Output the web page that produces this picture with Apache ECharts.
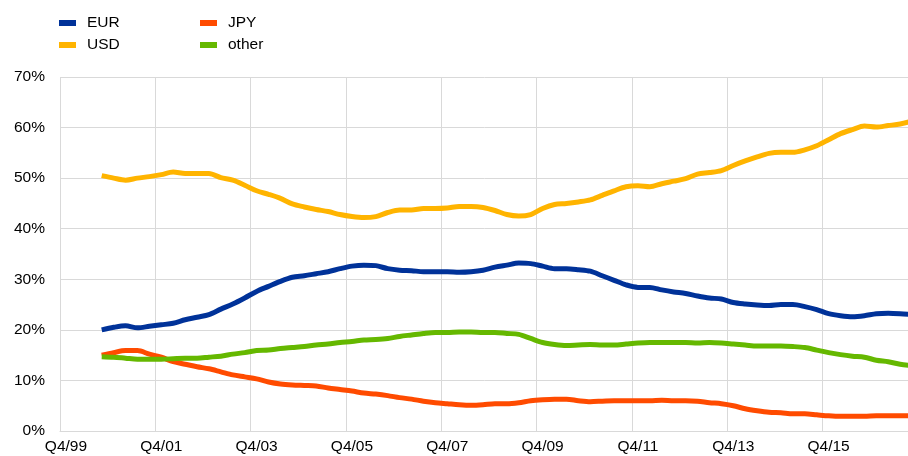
<!DOCTYPE html>
<html>
<head>
<meta charset="utf-8">
<script src="https://cdn.jsdelivr.net/npm/echarts@6/dist/echarts.min.js"></script>
<style>
  html, body { margin: 0; padding: 0; background: #fff; }
  #chart { width: 908px; height: 456px; }
</style>
</head>
<body>
<div id="chart"></div>
<script>
// quarters Q4/99 .. Q3/17, values in % (first three quarters have no data)
const quarters = [];
for (let y = 1999; y <= 2017; y++) {
  for (let q = 1; q <= 4; q++) {
    if (y === 1999 && q < 4) continue;
    if (y === 2017 && q > 3) continue;
    quarters.push('Q' + q + '/' + String(y).slice(2));
  }
}

const eur = [null, null, null,
  20.0, 20.5, 20.8, 20.4, 20.7, 21.0, 21.3, 22.0, 22.5, 23.0, 24.1, 25.1, 26.3, 27.6, 28.6, 29.6,
  30.4, 30.7, 31.1, 31.5, 32.1, 32.6, 32.8, 32.7, 32.1, 31.8, 31.7, 31.5, 31.5, 31.5, 31.4, 31.5, 31.8,
  32.4, 32.8, 33.2, 33.1, 32.6, 32.1, 32.1, 31.9, 31.6, 30.7, 29.8, 28.9, 28.4, 28.4, 27.9, 27.5, 27.2,
  26.7, 26.3, 26.1, 25.4, 25.1, 24.9, 24.8, 25.0, 25.0, 24.6, 24.0, 23.2, 22.8, 22.6, 22.8, 23.2, 23.3, 23.2, 23.0];

const usd = [null, null, null,
  50.5, 50.0, 49.6, 50.0, 50.3, 50.7, 51.2, 50.9, 50.9, 50.9, 50.1, 49.6, 48.6, 47.5, 46.8, 46.0,
  44.9, 44.3, 43.8, 43.4, 42.8, 42.4, 42.2, 42.4, 43.2, 43.7, 43.7, 44.0, 44.0, 44.1, 44.4, 44.4, 44.2,
  43.6, 42.8, 42.5, 42.8, 44.0, 44.8, 45.0, 45.3, 45.7, 46.6, 47.5, 48.3, 48.5, 48.3, 48.9, 49.4, 49.9,
  50.8, 51.1, 51.5, 52.5, 53.4, 54.2, 54.9, 55.1, 55.1, 55.6, 56.4, 57.6, 58.8, 59.6, 60.3, 60.1, 60.4, 60.7, 61.3];

const jpy = [null, null, null,
  15.0, 15.5, 15.9, 15.9, 15.2, 14.6, 13.7, 13.2, 12.7, 12.3, 11.7, 11.1, 10.7, 10.3, 9.7, 9.3,
  9.1, 9.0, 8.9, 8.5, 8.2, 7.9, 7.5, 7.3, 7.0, 6.6, 6.3, 5.9, 5.6, 5.4, 5.2, 5.1, 5.2,
  5.4, 5.4, 5.6, 6.0, 6.2, 6.3, 6.3, 6.0, 5.8, 5.9, 6.0, 6.0, 6.0, 6.0, 6.1, 6.0, 6.0,
  5.9, 5.6, 5.4, 5.0, 4.4, 4.0, 3.7, 3.6, 3.4, 3.4, 3.2, 3.0, 2.9, 2.9, 2.9, 3.0, 3.0, 3.0, 3.0];

const other = [null, null, null,
  14.7, 14.6, 14.4, 14.2, 14.2, 14.2, 14.3, 14.4, 14.4, 14.6, 14.8, 15.2, 15.5, 15.9, 16.0, 16.3,
  16.5, 16.7, 17.0, 17.2, 17.5, 17.7, 18.0, 18.1, 18.3, 18.7, 19.0, 19.3, 19.5, 19.5, 19.6, 19.6, 19.5,
  19.5, 19.3, 19.1, 18.3, 17.5, 17.1, 16.9, 17.0, 17.1, 17.0, 17.0, 17.2, 17.4, 17.5, 17.5, 17.5, 17.5,
  17.4, 17.5, 17.4, 17.2, 17.0, 16.8, 16.8, 16.8, 16.7, 16.5, 16.0, 15.5, 15.1, 14.8, 14.6, 14.0, 13.7, 13.2, 12.9];

const font = 'Liberation Sans, Arial, sans-serif';
const gridColor = '#d9d9d9';

const chart = echarts.init(document.getElementById('chart'));

function makeLine(name, data, color) {
  return {
    name: name,
    type: 'line',
    data: data,
    smooth: 0.3,
    showSymbol: false,
    symbol: 'none',
    lineStyle: { width: 5, color: color },
    itemStyle: { color: color }
  };
}

function makeLegend(names, left) {
  return {
    data: names,
    orient: 'vertical',
    left: left,
    top: 15,
    padding: 0,
    itemWidth: 17,
    itemHeight: 6,
    itemGap: 6,
    icon: 'rect',
    textStyle: { fontFamily: font, fontSize: 15.5, color: '#000', lineHeight: 16, padding: [0, 0, 0, 6] }
  };
}

chart.setOption({
  animation: false,
  backgroundColor: '#fff',
  legend: [makeLegend(['EUR', 'USD'], 59), makeLegend(['JPY', 'other'], 200)],
  // the plot runs past the right edge of the picture, as in the original
  grid: { left: 60, top: 77, width: 858, bottom: 25, outerBoundsMode: 'none' },
  xAxis: {
    type: 'category',
    data: quarters,
    boundaryGap: true,
    axisLine: { lineStyle: { color: gridColor, width: 1 } },
    axisTick: { show: false, interval: 7 },
    axisLabel: { interval: 7, margin: 8, color: '#000', fontFamily: font, fontSize: 15.5 },
    splitLine: { show: true, interval: 7, lineStyle: { color: gridColor, width: 1 } }
  },
  yAxis: {
    type: 'value',
    min: 0,
    max: 70,
    interval: 10,
    axisLine: { show: false },
    axisTick: { show: false },
    axisLabel: { formatter: '{value}%', margin: 15, color: '#000', fontFamily: font, fontSize: 15.5 },
    splitLine: { lineStyle: { color: gridColor, width: 1 } }
  },
  series: [
    makeLine('EUR', eur, '#003299'),
    makeLine('USD', usd, '#ffb400'),
    makeLine('JPY', jpy, '#ff4b00'),
    makeLine('other', other, '#65b800')
  ]
});
</script>
</body>
</html>
